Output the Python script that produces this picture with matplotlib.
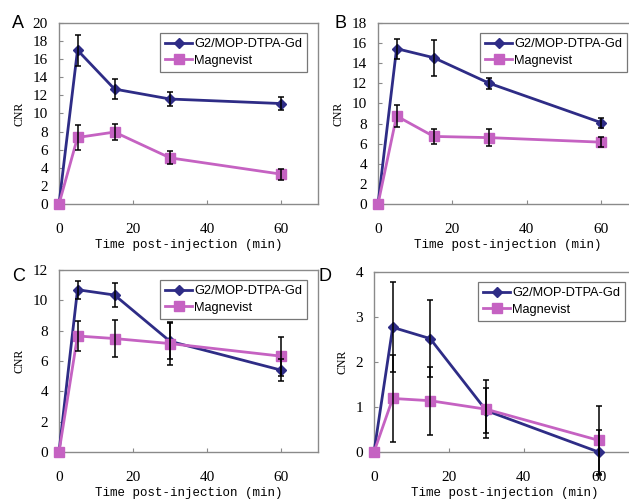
import matplotlib
matplotlib.use("Agg")
import matplotlib.pyplot as plt

time = [0, 5, 15, 30, 60]
series_names = ["G2/MOP-DTPA-Gd", "Magnevist"]

# Panel A
a_g2 = [0, 17.0, 12.7, 11.6, 11.1]
a_g2_err = [0, 1.7, 1.15, 0.8, 0.75]
a_mag = [0, 7.35, 7.95, 5.1, 3.3]
a_mag_err = [0, 1.4, 0.9, 0.72, 0.6]
# Panel B
b_g2 = [0, 15.45, 14.55, 12.0, 8.1]
b_g2_err = [0, 1.0, 1.8, 0.55, 0.5]
b_mag = [0, 8.75, 6.72, 6.6, 6.15]
b_mag_err = [0, 1.1, 0.75, 0.83, 0.5]
# Panel C
c_g2 = [0, 10.7, 10.35, 7.3, 5.4]
c_g2_err = [0, 0.6, 0.82, 1.2, 0.7]
c_mag = [0, 7.65, 7.48, 7.15, 6.32]
c_mag_err = [0, 1.0, 1.2, 1.43, 1.28]
# Panel D
d_g2 = [0, 2.77, 2.52, 0.92, 0.0]
d_g2_err = [0, 1.0, 0.85, 0.5, 0.48]
d_mag = [0, 1.19, 1.14, 0.95, 0.26]
d_mag_err = [0, 0.96, 0.76, 0.64, 0.76]

x_ticks = [0, 20, 40, 60]
panels = [
    ("A", a_g2, a_g2_err, a_mag, a_mag_err, [0, 2, 4, 6, 8, 10, 12, 14, 16, 18, 20], 20),
    ("B", b_g2, b_g2_err, b_mag, b_mag_err, [0, 2, 4, 6, 8, 10, 12, 14, 16, 18], 18),
    ("C", c_g2, c_g2_err, c_mag, c_mag_err, [0, 2, 4, 6, 8, 10, 12], 12),
    ("D", d_g2, d_g2_err, d_mag, d_mag_err, [0, 1, 2, 3, 4], 4),
]

W, H = 629, 500
fig = plt.figure(figsize=(W / 100, H / 100), dpi=100)

# axes boxes in pixels: left, top, right, bottom
boxes = [(59, 23, 318, 204), (378, 23, 638, 204), (59, 270, 318, 452), (374, 272, 636, 452)]
label_pos = [(12, 15), (334, 15), (12, 268), (319, 268)]

blue = "#2E2C86"
pink = "#C562C2"
spine_col = "#8a8a8a"
serif = "Liberation Serif"

for (name, g2, g2e, mag, mage, yt, ymax), box, lp in zip(panels, boxes, label_pos):
    l, t, r, b = box
    ax = fig.add_axes([l / W, 1 - b / H, (r - l) / W, (b - t) / H])
    ax.set_xlim(0, 70)
    ax.set_ylim(0, ymax)
    ax.plot(time, g2, color=blue, lw=2, marker="D", ms=5.5, zorder=3,
            label=series_names[0], clip_on=False)
    ax.plot(time, mag, color=pink, lw=2, marker="s", ms=6.5, zorder=3,
            label=series_names[1], clip_on=False)
    ax.errorbar(time[1:], g2[1:], yerr=g2e[1:], fmt="none", ecolor="black",
                elinewidth=1.1, capsize=2.5, capthick=1.1, zorder=4, clip_on=False)
    ax.errorbar(time[1:], mag[1:], yerr=mage[1:], fmt="none", ecolor="black",
                elinewidth=1.1, capsize=2.5, capthick=1.1, zorder=4, clip_on=False)
    ax.set_xticks(x_ticks)
    ax.set_yticks(yt)
    ax.tick_params(direction="in", length=3, color=spine_col, labelsize=11, pad=14)
    ax.tick_params(axis="y", pad=8)
    for lab in ax.get_xticklabels() + ax.get_yticklabels():
        lab.set_fontfamily(serif)
    for s in ax.spines.values():
        s.set_color(spine_col)
        s.set_linewidth(1)
    ax.set_ylabel("CNR", fontfamily=serif, fontsize=8.5, labelpad=5)
    ax.set_xlabel("Time post-injection (min)", fontfamily="Liberation Mono",
                  fontsize=9, labelpad=2)
    leg = ax.legend(loc="upper right", bbox_to_anchor=(1 - 11 / (r - l), 1 - 10 / (b - t)),
                    frameon=True, fancybox=False, handlelength=2.1,
                    borderpad=0.4, labelspacing=0.35, handletextpad=0.15,
                    borderaxespad=0, prop={"family": "Liberation Sans", "size": 9.2})
    leg.get_frame().set_edgecolor("#555555")
    leg.get_frame().set_linewidth(0.9)
    fig.text(lp[0] / W, 1 - lp[1] / H, name, fontsize=13, family="Liberation Sans",
             va="top", ha="left")

fig.savefig("out.png", dpi=100)
